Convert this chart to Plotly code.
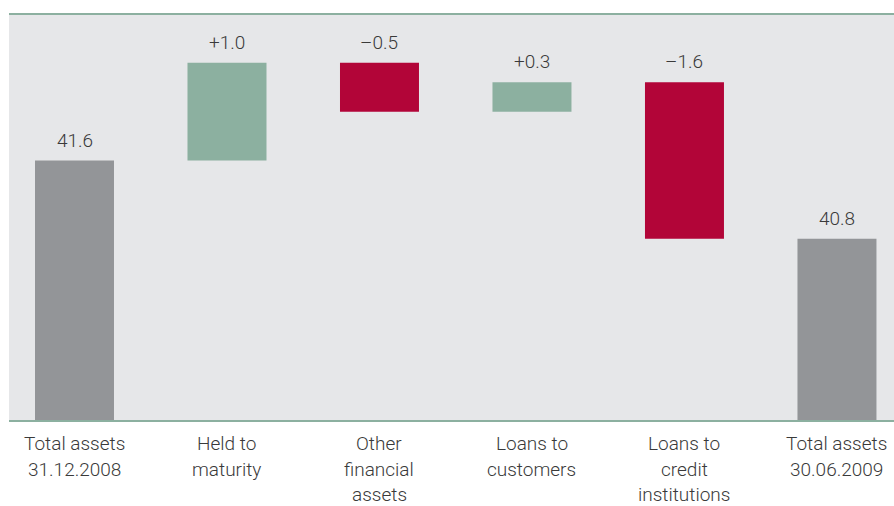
import plotly.graph_objects as go

categories = ["Total assets<br>31.12.2008", "Held to<br>maturity", "Other<br>financial<br>assets",
              "Loans to<br>customers", "Loans to<br>credit<br>institutions", "Total assets<br>30.06.2009"]
start_total = 41.6
changes = [1.0, -0.5, 0.3, -1.6]
end_total = 40.8
labels = ["41.6", "+1.0", "–0.5", "+0.3", "–1.6", "40.8"]

GRAY = "#939598"
GREEN = "#8cb0a0"
RED = "#b20538"
BG = "#e6e7e9"
LINE = "#8cb0a0"
TXT = "#3a3a3a"
FONT = "Roboto"

y0 = 38.943
y1 = 43.10

xs = list(range(len(categories)))
bases, heights, colors = [], [], []
bases.append(y0); heights.append(start_total - y0); colors.append(GRAY)
level = start_total
tops = [start_total]
for c in changes:
    new = level + c
    bases.append(min(level, new)); heights.append(abs(c)); colors.append(GREEN if c > 0 else RED)
    tops.append(max(level, new))
    level = new
bases.append(y0); heights.append(end_total - y0); colors.append(GRAY)
tops.append(end_total)

fig = go.Figure(go.Bar(x=xs, y=heights, base=bases, marker=dict(color=colors, line=dict(width=0)),
                       width=0.518, hoverinfo="skip"))

for i, t in enumerate(tops):
    fig.add_annotation(x=xs[i], y=t, text=labels[i], showarrow=False, yanchor="bottom", yshift=7,
                       font=dict(family=FONT, size=19, color=TXT, weight=300))

for i, cat in enumerate(categories):
    for j, line in enumerate(cat.split("<br>")):
        fig.add_annotation(x=xs[i], y=0, yref="paper", text=line, showarrow=False,
                           yanchor="middle", yshift=-23.5 - 25.5 * j,
                           font=dict(family=FONT, size=19, color=TXT, weight=300))

fig.add_shape(type="line", xref="paper", yref="paper", x0=0, x1=1, y0=1, y1=1,
              line=dict(color=LINE, width=2))

fig.update_layout(
    width=894, height=506,
    margin=dict(l=9, r=0, t=14, b=86),
    paper_bgcolor="white", plot_bgcolor=BG,
    showlegend=False,
    xaxis=dict(range=[-0.4295, 5.374], showticklabels=False, showgrid=False, zeroline=False,
               showline=True, linecolor=LINE, linewidth=2, ticks=""),
    yaxis=dict(range=[y0, y1], showticklabels=False, showgrid=False, zeroline=False),
)

fig.write_html("out.html", config={"displayModeBar": False},
               post_script="document.body.style.margin='0';document.body.style.overflow='hidden';")
